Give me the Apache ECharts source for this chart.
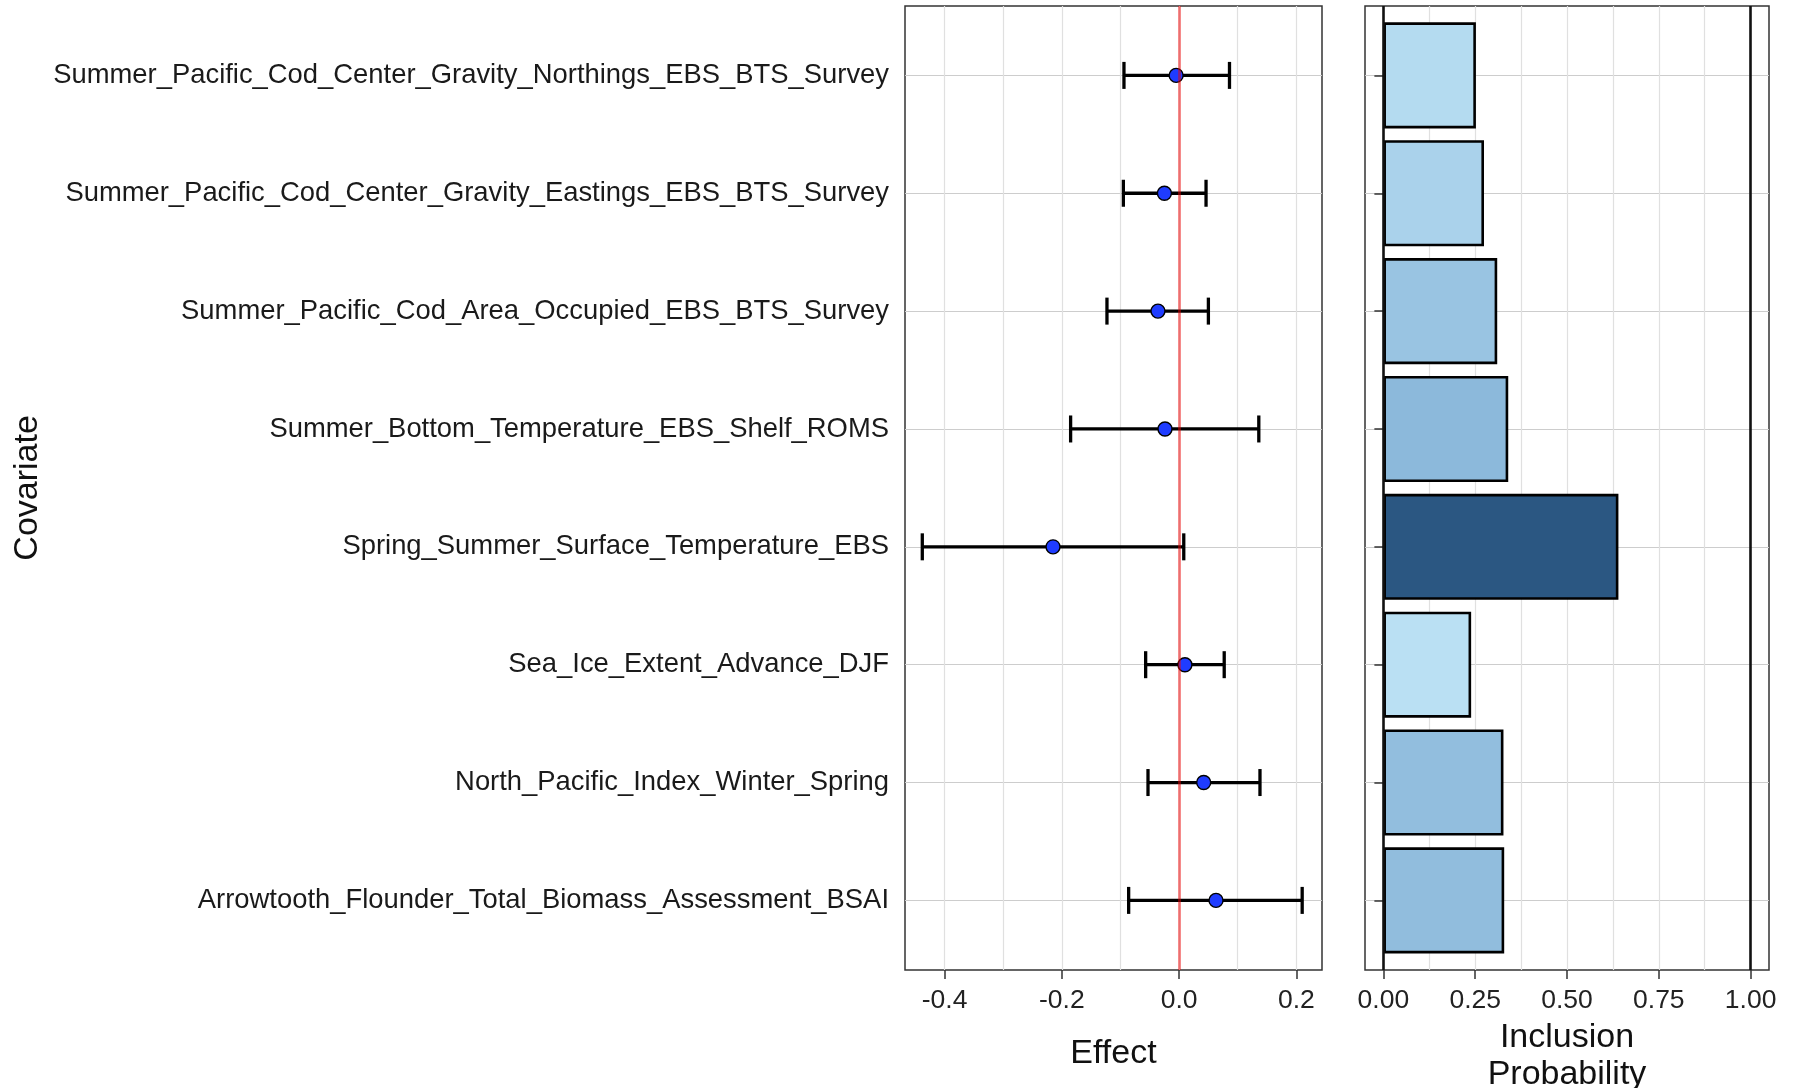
<!DOCTYPE html>
<html>
<head>
<meta charset="utf-8">
<title>Covariate effects and inclusion probability</title>
<script src="https://cdn.jsdelivr.net/npm/echarts@6/dist/echarts.min.js"></script>
<style>
  html, body { margin: 0; padding: 0; background: #fff; }
  #chart { width: 1796px; height: 1088px; }
</style>
</head>
<body>
<div id="chart"></div>
<script>
// covariates, top to bottom
const covariates = [
  "Summer_Pacific_Cod_Center_Gravity_Northings_EBS_BTS_Survey",
  "Summer_Pacific_Cod_Center_Gravity_Eastings_EBS_BTS_Survey",
  "Summer_Pacific_Cod_Area_Occupied_EBS_BTS_Survey",
  "Summer_Bottom_Temperature_EBS_Shelf_ROMS",
  "Spring_Summer_Surface_Temperature_EBS",
  "Sea_Ice_Extent_Advance_DJF",
  "North_Pacific_Index_Winter_Spring",
  "Arrowtooth_Flounder_Total_Biomass_Assessment_BSAI"
];

const effectMean = [-0.005, -0.025, -0.036, -0.024, -0.215, 0.010, 0.042, 0.063];
const effectLow = [-0.094, -0.095, -0.123, -0.185, -0.438, -0.057, -0.053, -0.086];
const effectHigh = [0.086, 0.046, 0.050, 0.136, 0.008, 0.077, 0.138, 0.210];

const inclusionProb = [0.252, 0.274, 0.310, 0.340, 0.640, 0.239, 0.327, 0.329];

const effectTicks = [-0.4, -0.2, 0.0, 0.2];
const effectGridVals = [-0.4, -0.3, -0.2, -0.1, 0.0, 0.1, 0.2];
const probTicks = [0, 0.25, 0.5, 0.75, 1];
const probGridVals = [0, 0.125, 0.25, 0.375, 0.5, 0.625, 0.75, 0.875, 1];

const chart = echarts.init(document.getElementById("chart"));

const FONT = "Liberation Sans";
const effMin = -0.4675, effMax = 0.2438;
const probMin = -0.05, probMax = 1.05;

const frameGrid = {
  show: true,
  borderColor: "#333",
  borderWidth: 1.5,
  backgroundColor: "transparent"
};

const vGrid = { show: true, lineStyle: { color: "#e0e0e0", width: 1.2 } };
const hGrid = { show: true, lineStyle: { color: "#cdcdcd", width: 1.2 } };

chart.setOption({
  animation: false,
  backgroundColor: "#fff",
  textStyle: { fontFamily: FONT },
  grid: [
    Object.assign({ left: 905, top: 6, width: 417, height: 964, outerBoundsMode: "none" }, frameGrid),
    { left: 905, top: 75.4, width: 417, height: 825, outerBoundsMode: "none" },
    Object.assign({ left: 1365, top: 6, width: 404, height: 964, outerBoundsMode: "none" }, frameGrid),
    { left: 1365, top: 75.4, width: 404, height: 825, outerBoundsMode: "none" }
  ],
  visualMap: {
    show: false,
    seriesIndex: 4,
    dimension: 0,
    min: Math.min(...inclusionProb),
    max: Math.max(...inclusionProb),
    inRange: { color: ["#bae0f3", "#5e92c3", "#2b5782"] }
  },
  xAxis: [
    // left panel: vertical grid lines
    {
      type: "value", gridIndex: 0, min: effMin, max: effMax, position: "bottom",
      axisLine: { show: false, onZero: false },
      axisTick: { show: false, customValues: effectGridVals },
      axisLabel: { show: false, customValues: effectGridVals },
      splitLine: vGrid
    },
    // left panel: ticks, labels, title
    {
      type: "value", gridIndex: 0, min: effMin, max: effMax, position: "bottom",
      axisLine: { show: false, onZero: false },
      axisTick: { show: true, length: 9, customValues: effectTicks, lineStyle: { color: "#333", width: 1.5 } },
      axisLabel: {
        customValues: effectTicks, fontSize: 26.5, color: "#222", margin: 17,
        formatter: (v) => v.toFixed(1)
      },
      splitLine: { show: false },
      name: "Effect", nameLocation: "middle", nameGap: 67,
      nameTextStyle: { fontSize: 34, color: "#111" }
    },
    { type: "value", gridIndex: 1, min: effMin, max: effMax, show: false },
    // right panel: vertical grid lines
    {
      type: "value", gridIndex: 2, min: probMin, max: probMax, position: "bottom",
      axisLine: { show: false, onZero: false },
      axisTick: { show: false, customValues: probGridVals },
      axisLabel: { show: false, customValues: probGridVals },
      splitLine: vGrid
    },
    {
      type: "value", gridIndex: 2, min: probMin, max: probMax, position: "bottom",
      axisLine: { show: false, onZero: false },
      axisTick: { show: true, length: 9, customValues: probTicks, lineStyle: { color: "#333", width: 1.5 } },
      axisLabel: {
        customValues: probTicks, fontSize: 26.5, color: "#222", margin: 17,
        formatter: (v) => v.toFixed(2)
      },
      splitLine: { show: false },
      name: "Inclusion\nProbability", nameLocation: "middle", nameGap: 45,
      nameTextStyle: { fontSize: 34, color: "#111", lineHeight: 37 }
    },
    { type: "value", gridIndex: 3, min: probMin, max: probMax, show: false }
  ],
  yAxis: [
    { type: "value", gridIndex: 0, min: 0, max: 1, show: false },
    {
      type: "category", gridIndex: 1, data: covariates, inverse: true, boundaryGap: false,
      axisLine: { show: false },
      axisTick: { show: true, length: 9, lineStyle: { color: "#333", width: 1.5 } },
      axisLabel: { fontSize: 27.4, color: "#1a1a1a", margin: 16, padding: [8, 0, 0, 0] },
      splitLine: hGrid,
      name: "Covariate", nameLocation: "middle", nameGap: 860, nameRotate: 90,
      nameTextStyle: { fontSize: 34, color: "#111" }
    },
    { type: "value", gridIndex: 2, min: 0, max: 1, show: false },
    {
      type: "category", gridIndex: 3, data: covariates, inverse: true, boundaryGap: false,
      axisLine: { show: false },
      axisTick: { show: true, length: 9, lineStyle: { color: "#333", width: 1.5 } },
      axisLabel: { show: false },
      splitLine: hGrid
    }
  ],
  series: [
    // 0: error bars
    {
      type: "custom",
      xAxisIndex: 2, yAxisIndex: 1,
      clip: false,
      z: 3,
      encode: { x: [0, 1], y: 2 },
      data: covariates.map((c, i) => [effectLow[i], effectHigh[i], i]),
      renderItem: (params, api) => {
        const idx = api.value(2);
        const lo = api.coord([api.value(0), idx]);
        const hi = api.coord([api.value(1), idx]);
        const cap = 13.5;
        const style = { stroke: "#000", lineWidth: 3.3 };
        return {
          type: "group",
          children: [
            { type: "line", shape: { x1: lo[0], y1: lo[1], x2: hi[0], y2: hi[1] }, style },
            { type: "line", shape: { x1: lo[0], y1: lo[1] - cap, x2: lo[0], y2: lo[1] + cap }, style },
            { type: "line", shape: { x1: hi[0], y1: hi[1] - cap, x2: hi[0], y2: hi[1] + cap }, style }
          ]
        };
      }
    },
    // 1: posterior means
    {
      type: "scatter",
      xAxisIndex: 2, yAxisIndex: 1,
      clip: false,
      z: 4,
      symbolSize: 14,
      itemStyle: { color: "#1f3cff", borderColor: "#000", borderWidth: 1.4, opacity: 1 },
      data: covariates.map((c, i) => [effectMean[i], i])
    },
    // 2: zero line, left panel
    {
      type: "scatter",
      xAxisIndex: 1, yAxisIndex: 0,
      data: [],
      z: 5,
      markLine: {
        silent: true, symbol: ["none", "none"], label: { show: false },
        lineStyle: { color: "rgba(240,0,0,0.5)", width: 2.8, type: "solid" },
        data: [{ xAxis: 0 }]
      }
    },
    // 3: reference lines, right panel
    {
      type: "scatter",
      xAxisIndex: 4, yAxisIndex: 2,
      data: [],
      z: 5,
      markLine: {
        silent: true, symbol: ["none", "none"], label: { show: false },
        lineStyle: { color: "#111", width: 2.6, type: "solid" },
        data: [{ xAxis: 0 }, { xAxis: 1 }]
      }
    },
    // 4: inclusion probability bars
    {
      type: "bar",
      xAxisIndex: 5, yAxisIndex: 3,
      clip: false,
      barWidth: "90%",
      itemStyle: { borderColor: "#000", borderWidth: 2.6 },
      data: covariates.map((c, i) => [inclusionProb[i], i])
    }
  ]
});
</script>
</body>
</html>
